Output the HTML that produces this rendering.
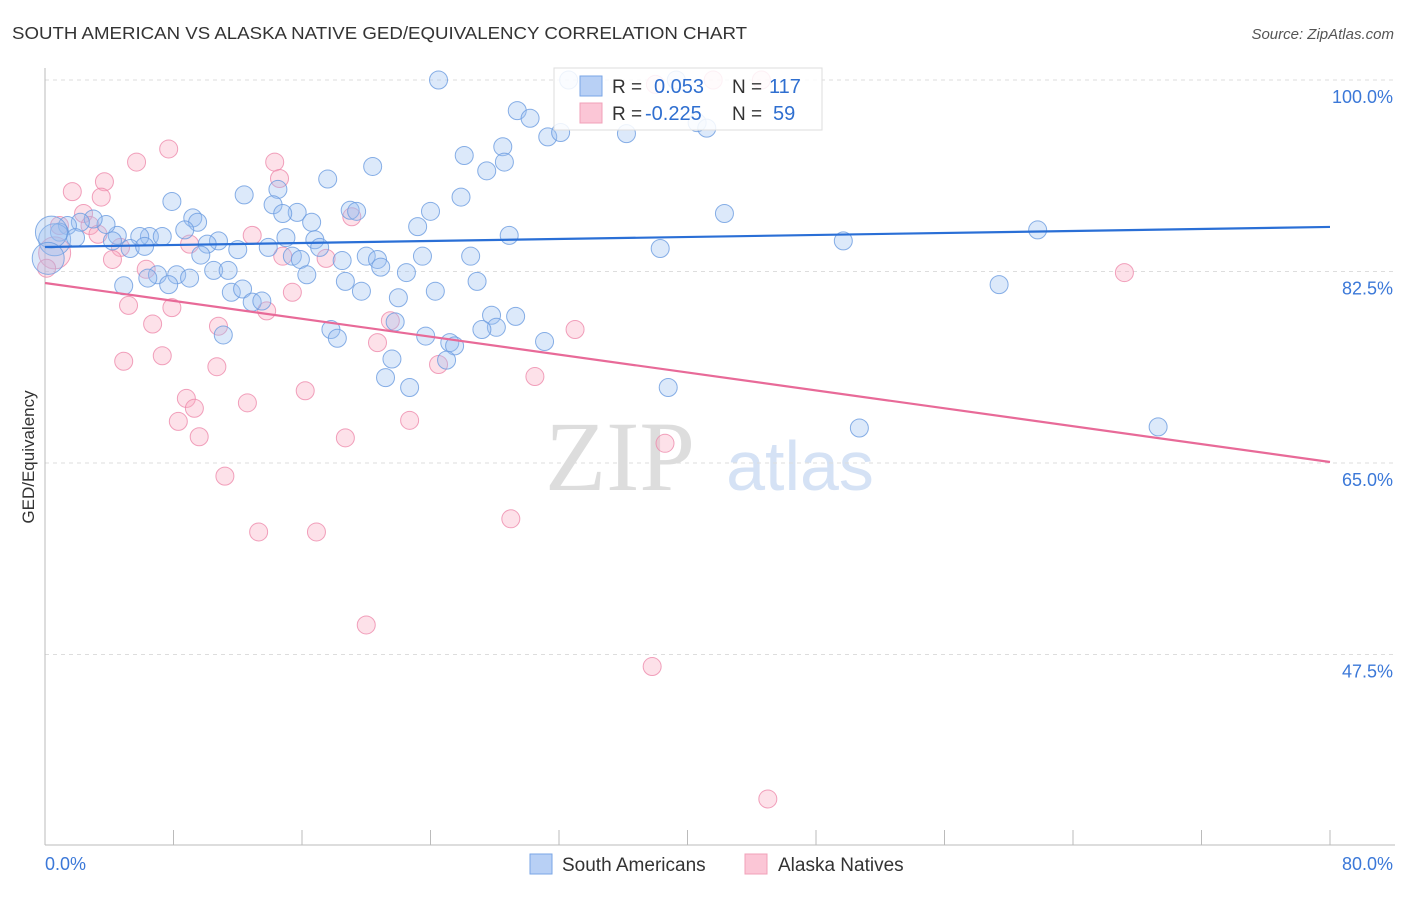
<!DOCTYPE html>
<html><head><meta charset="utf-8"><style>
body{margin:0;background:#fff;font-family:"Liberation Sans",sans-serif;}
</style></head><body>
<svg id="c" width="1406" height="892" xmlns="http://www.w3.org/2000/svg" style="font-family:'Liberation Sans',sans-serif">
<text x="12" y="39" font-size="17.5" fill="#333" textLength="735" lengthAdjust="spacingAndGlyphs">SOUTH AMERICAN VS ALASKA NATIVE GED/EQUIVALENCY CORRELATION CHART</text>
<text x="1394" y="39" font-size="15" fill="#555" font-style="italic" text-anchor="end">Source: ZipAtlas.com</text>
<text x="620" y="490" font-size="100" fill="#ddd" font-family="Liberation Serif" text-anchor="middle">ZIP</text>
<text x="800" y="490" font-size="70" fill="#d5e2f5" text-anchor="middle">atlas</text>
<text x="34" y="457" font-size="17" fill="#333" text-anchor="middle" transform="rotate(-90 34 457)">GED/Equivalency</text>
<g id="grid"></g><g id="marks"></g>
<g>
<rect x="554" y="68" width="268" height="62" fill="#fff" fill-opacity="0.85" stroke="#ddd"/>
<rect x="580" y="76" width="22" height="20" fill="#b8d0f5" stroke="#7aa6e6"/>
<rect x="580" y="103" width="22" height="20" fill="#fbc6d6" stroke="#f0a0b8"/>
<text x="612" y="93" font-size="19" fill="#333">R =</text><text x="654" y="93" font-size="20" fill="#2f6fd0">0.053</text>
<text x="732" y="93" font-size="19" fill="#333">N =</text><text x="769" y="93" font-size="20" fill="#2f6fd0">117</text>
<text x="612" y="120" font-size="19" fill="#333">R =</text><text x="645" y="120" font-size="20" fill="#2f6fd0">-0.225</text>
<text x="732" y="120" font-size="19" fill="#333">N =</text><text x="773" y="120" font-size="20" fill="#2f6fd0">59</text>
</g>
<g>
<rect x="530" y="854" width="22" height="20" fill="#b8d0f5" stroke="#7aa6e6"/>
<text x="562" y="871" font-size="19" fill="#333">South Americans</text>
<rect x="745" y="854" width="22" height="20" fill="#fbc6d6" stroke="#f0a0b8"/>
<text x="778" y="871" font-size="19" fill="#333">Alaska Natives</text>
</g>
</svg>
<script>
const xTicks=[0,8,16,24,32,40,48,56,64,72,80];
const yTicks=[100,82.5,65,47.5];
const blueX=[24.5,32.6,39.3,29.4,30.2,31.3,32.1,36.2,40.6,41.2,28.5,26.1,28.6,27.5,20.4,17.6,25.9,12.4,14.5,7.9,14.2,24.0,19.0,19.4,15.7,9.2,9.5,14.8,16.6,23.2,42.3,61.8,28.9,49.7,38.3,8.7,6.5,7.3,5.9,4.5,3.8,3.0,2.2,1.4,0.9,0.6,1.9,10.8,10.1,12.0,13.9,15.0,16.8,17.1,5.3,4.2,6.2,9.7,15.4,15.9,18.5,20.0,20.7,20.9,23.5,26.5,10.5,11.4,16.3,18.7,22.5,26.9,7.0,8.2,9.0,6.4,7.7,4.9,11.6,12.3,19.7,24.3,22.0,12.9,13.5,59.4,27.8,29.3,21.8,28.1,27.2,17.8,18.2,11.1,23.7,25.2,25.5,31.1,21.6,25.0,21.2,22.7,38.8,50.7,69.3,0.4,0.2];
const blueY=[100,100,100,97.2,96.5,94.8,95.2,95.1,96.1,95.6,93.9,93.1,92.5,91.7,92.1,90.95,89.3,89.5,90.0,88.9,88.6,88.0,88.1,88.0,87.9,87.4,87.0,87.8,87.0,86.6,87.8,86.3,85.8,85.3,84.6,86.3,85.7,85.7,85.7,85.8,86.8,87.3,87.0,86.7,86.1,85.4,85.6,85.3,85.0,84.5,84.7,85.6,85.4,84.7,84.6,85.3,84.8,84.0,83.9,83.6,83.5,83.9,83.6,82.9,83.9,83.9,82.6,82.6,82.2,81.6,82.4,81.6,82.2,82.2,81.9,81.9,81.3,81.2,80.6,80.9,80.7,80.7,80.1,79.7,79.8,81.3,78.5,78.4,77.9,77.4,77.2,77.2,76.4,76.7,76.6,76.0,75.7,76.1,74.5,74.4,72.8,71.9,71.9,68.2,68.3,86.1,83.7];
const pinkX=[7.7,5.7,14.3,14.6,3.7,1.7,3.5,2.4,2.8,3.3,0.9,19.1,12.9,9.0,4.7,4.2,14.8,17.5,6.3,15.4,5.2,7.9,13.8,6.7,10.8,21.5,33.0,20.7,7.3,4.9,10.7,24.5,30.5,16.2,8.8,9.3,12.6,8.3,22.7,9.6,18.7,38.6,11.2,29.0,13.3,16.9,20.0,37.8,45.0,67.2,0.6,0.1,44.6,41.6,38.0];
const pinkY=[93.7,92.5,92.5,91.0,90.7,89.8,89.3,87.8,86.7,85.9,86.7,87.5,85.8,85.0,84.7,83.6,83.9,83.7,82.7,80.6,79.4,79.2,78.9,77.7,77.5,78.0,77.2,76.0,74.8,74.3,73.8,74.0,72.9,71.6,70.9,70.0,70.5,68.8,68.9,67.4,67.3,66.8,63.8,59.9,58.7,58.7,50.2,46.4,34.3,82.4,84.2,82.8,100,100,99.6];
const blueTrend=[84.74,86.57];
const pinkTrend=[81.45,65.09];
const X=v=>45+v/80*1285, Y=v=>80+(100-v)/17.5*191.5;
const NS="http://www.w3.org/2000/svg";
function mk(t,a,p){const e=document.createElementNS(NS,t);for(const k in a)e.setAttribute(k,a[k]);p.appendChild(e);return e;}
const g=document.getElementById('grid'),m=document.getElementById('marks');
yTicks.forEach(v=>{const l=mk('line',{x1:45,x2:1395,y1:Y(v),y2:Y(v),stroke:'#ddd','stroke-dasharray':'4 4'},g);


const t=mk('text',{x:1393,y:Y(v)+23,'font-size':18,fill:'#3b78d8','text-anchor':'end'},g);t.textContent=v.toFixed(1)+'%';

});
const ax=mk('line',{x1:45,x2:45,y1:68,y2:845,stroke:'#bbb'},g);


const bx=mk('line',{x1:45,x2:1395,y1:845,y2:845,stroke:'#bbb'},g);


xTicks.forEach(v=>{const l=mk('line',{x1:X(v),x2:X(v),y1:830,y2:845,stroke:'#bbb'},g);

});
[[0,'start',45],[80,'end',1393]].forEach(([v,a,x])=>{const t=mk('text',{x:x,y:870,'font-size':18,fill:'#3b78d8','text-anchor':a},g);t.textContent=v.toFixed(1)+'%';

});
function pts(xs,ys,fill,stroke,name){xs.forEach((x,i)=>{const big=x<0.7&&(ys[i]>83&&ys[i]<86.5);const c=mk('circle',{cx:X(x),cy:Y(ys[i]),r:big?16:9,fill:fill,'fill-opacity':0.35,stroke:stroke,'stroke-opacity':0.8,'stroke-width':1},m);

});}
pts(pinkX,pinkY,'#f8a8c0','#ee8aab','alaska-native-point');
pts(blueX,blueY,'#9cc0f0','#6a9be0','south-american-point');
const bl=mk('line',{x1:X(0),x2:X(80),y1:Y(blueTrend[0]),y2:Y(blueTrend[1]),stroke:'#2a6fd6','stroke-width':2.2},m);


const pl=mk('line',{x1:X(0),x2:X(80),y1:Y(pinkTrend[0]),y2:Y(pinkTrend[1]),stroke:'#e86a98','stroke-width':2.2},m);


</script>
</body></html>
